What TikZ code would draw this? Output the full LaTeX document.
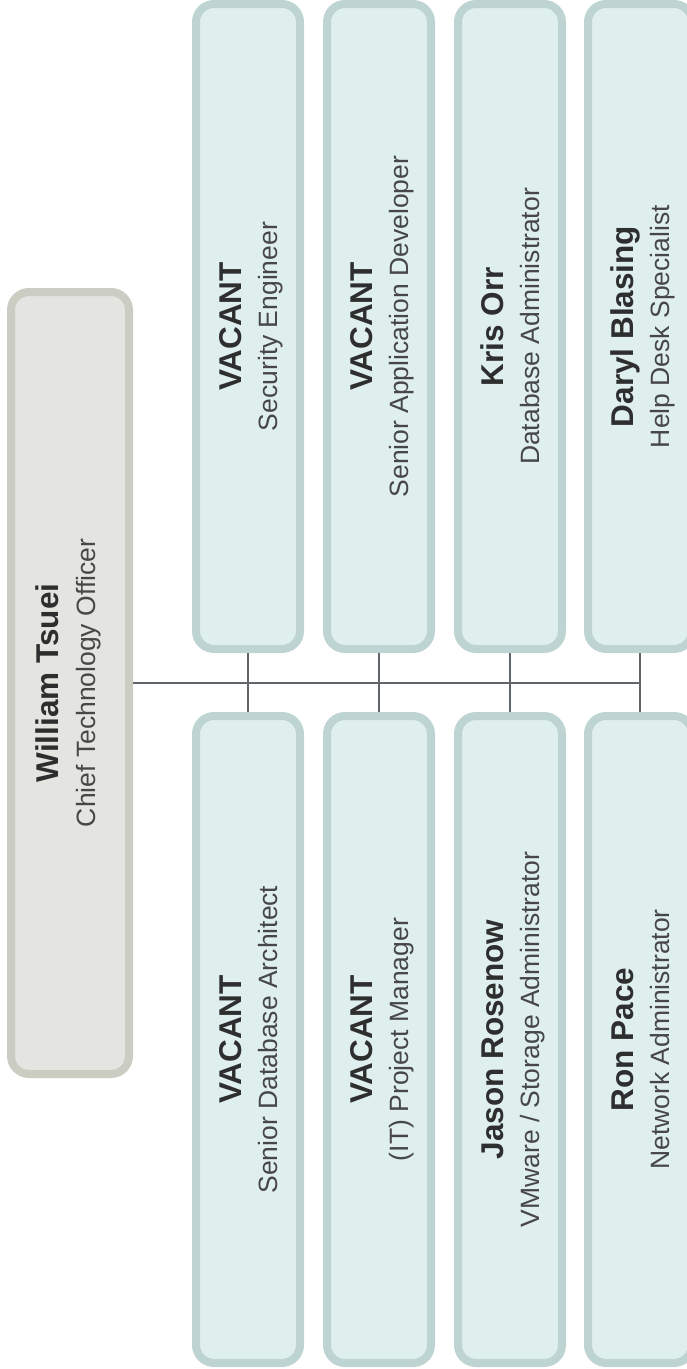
\documentclass[tikz,border=0pt]{standalone}
\usepackage{fontspec}
\setmainfont{Liberation Sans}
\definecolor{tealfill}{HTML}{DFEFEE}
\definecolor{tealedge}{HTML}{BED4D2}
\definecolor{headfill}{HTML}{E4E5E0}
\definecolor{headedge}{HTML}{CBCDC2}
\definecolor{linkgray}{HTML}{5F666B}
\definecolor{nameink}{HTML}{2E2E2E}
\definecolor{roleink}{HTML}{474747}
\begin{document}
\begin{tikzpicture}[x=1pt,y=-1pt,
  card/.style={draw=tealedge, fill=tealfill, line width=8pt, rounded corners=18pt,
    minimum width=104pt, inner sep=0pt},
  upcard/.style={card, minimum height=645pt},
  lowcard/.style={card, minimum height=647pt},
  headcard/.style={draw=headedge, fill=headfill, line width=8pt, rounded corners=18pt,
    minimum width=118pt, minimum height=782pt, inner sep=0pt},
  nametext/.style={rotate=90, anchor=base, inner sep=0pt, text=nameink,
    font=\fontsize{31.5}{36}\selectfont\bfseries},
  roletext/.style={rotate=90, anchor=base, inner sep=0pt, text=roleink,
    font=\fontsize{26.5}{30}\selectfont},
  link/.style={draw=linkgray, line width=2pt}
]
\useasboundingbox (0,0) rectangle (686,1369);

% head of the department
\node[headcard] (cto) at (70,683) {};
\node[nametext] (ctoname) at (58,683) {William Tsuei};
\node[roletext] (ctorole) at (95,683) {Chief Technology Officer};

% upper row of positions
\node[upcard] (a1) at (248,326.5) {};
\node[upcard] (a2) at (379,326.5) {};
\node[upcard] (a3) at (510,326.5) {};
\node[upcard] (a4) at (640,326.5) {};

% lower row of positions
\node[lowcard] (b1) at (248,1039.5) {};
\node[lowcard] (b2) at (379,1039.5) {};
\node[lowcard] (b3) at (510,1039.5) {};
\node[lowcard] (b4) at (640,1039.5) {};

% labels, upper row
\node[nametext] (a1name) at (241,326.5) {VACANT};
\node[roletext] (a1role) at (277,326.5) {Security Engineer};
\node[nametext] (a2name) at (372,326.5) {VACANT};
\node[roletext] (a2role) at (408,326.5) {Senior Application Developer};
\node[nametext] (a3name) at (503,326.5) {Kris Orr};
\node[roletext] (a3role) at (539,326.5) {Database Administrator};
\node[nametext] (a4name) at (633,326.5) {Daryl Blasing};
\node[roletext] (a4role) at (669,326.5) {Help Desk Specialist};

% labels, lower row
\node[nametext] (b1name) at (241,1039.5) {VACANT};
\node[roletext] (b1role) at (277,1039.5) {Senior Database Architect};
\node[nametext] (b2name) at (372,1039.5) {VACANT};
\node[roletext] (b2role) at (408,1039.5) {(IT) Project Manager};
\node[nametext] (b3name) at (503,1039.5) {Jason Rosenow};
\node[roletext] (b3role) at (539,1039.5) {VMware / Storage Administrator};
\node[nametext] (b4name) at (633,1039.5) {Ron Pace};
\node[roletext] (b4role) at (669,1039.5) {Network Administrator};

% reporting lines
\coordinate (busend) at (a4.south |- cto.east);
\draw[link] (cto.east) -- (busend);
\draw[link] (a1.south) -- (b1.north);
\draw[link] (a2.south) -- (b2.north);
\draw[link] (a3.south) -- (b3.north);
\draw[link] (a4.south) -- (b4.north);
\end{tikzpicture}
\end{document}
